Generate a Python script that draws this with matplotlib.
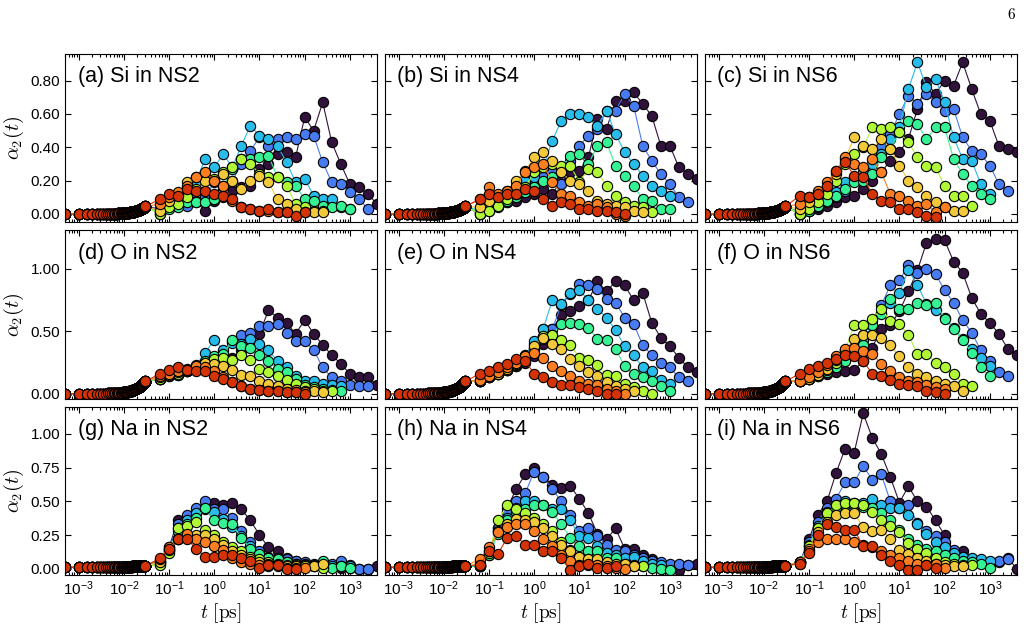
import matplotlib
matplotlib.use("Agg")
import matplotlib.pyplot as plt
from matplotlib.ticker import FormatStrFormatter, NullFormatter

plt.rcParams["font.family"] = ["Liberation Sans", "DejaVu Sans"]
plt.rcParams["mathtext.fontset"] = "custom"
plt.rcParams["mathtext.rm"] = "Liberation Sans"
plt.rcParams["mathtext.it"] = "Liberation Sans:italic"
plt.rcParams["mathtext.bf"] = "Liberation Sans:bold"

# time grids [ps]
t_short = [0.0005, 0.001, 0.0015, 0.002, 0.0025, 0.003, 0.0035, 0.004, 0.0045, 0.005,
           0.0055, 0.006, 0.0065, 0.007, 0.0075, 0.008, 0.0085, 0.009, 0.0095, 0.010,
           0.0105, 0.011, 0.0115, 0.012, 0.0125, 0.013, 0.0135, 0.014, 0.0145, 0.015,
           0.0155, 0.016, 0.0165, 0.017, 0.0175, 0.018, 0.0185, 0.019, 0.0195, 0.020,
           0.0205, 0.021, 0.0215, 0.022, 0.0225, 0.023, 0.0235, 0.024, 0.0245, 0.025,
           0.0255, 0.026, 0.0265, 0.027, 0.0275, 0.028, 0.0285, 0.029, 0.0295, 0.030]
t_long = [0.063, 0.1, 0.158, 0.251, 0.398, 0.631, 1.0, 1.585, 2.512, 3.981, 6.31, 10.0,
          15.85, 25.12, 39.81, 63.1, 100.0, 158.5, 251.2, 398.1, 631.0, 1000.0, 1585.0,
          2512.0, 3981.0]

# short-time part, same for all temperatures of one species
si_short = [0.0, 0.0, 0.0, 0.0, 0.0, 0.0, 0.0, 0.0, 0.001, 0.001,
            0.002, 0.002, 0.002, 0.002, 0.003, 0.003, 0.003, 0.004, 0.004, 0.005,
            0.006, 0.006, 0.007, 0.007, 0.008, 0.008, 0.009, 0.010, 0.010, 0.011,
            0.012, 0.013, 0.014, 0.014, 0.015, 0.016, 0.017, 0.018, 0.019, 0.020,
            0.021, 0.022, 0.023, 0.024, 0.025, 0.026, 0.027, 0.029, 0.030, 0.031,
            0.033, 0.034, 0.035, 0.037, 0.038, 0.039, 0.041, 0.042, 0.044, 0.045]
o_short = [0.0, 0.0, 0.0, 0.0, 0.0, 0.001, 0.001, 0.001, 0.002, 0.003,
           0.003, 0.004, 0.005, 0.005, 0.006, 0.007, 0.008, 0.009, 0.010, 0.011,
           0.012, 0.013, 0.015, 0.016, 0.017, 0.019, 0.020, 0.022, 0.023, 0.025,
           0.027, 0.028, 0.030, 0.032, 0.034, 0.036, 0.038, 0.040, 0.042, 0.044,
           0.047, 0.049, 0.051, 0.054, 0.056, 0.059, 0.061, 0.064, 0.067, 0.069,
           0.072, 0.075, 0.078, 0.081, 0.084, 0.087, 0.090, 0.093, 0.097, 0.100]
na_short = [0.012, 0.012, 0.012, 0.012, 0.012, 0.013, 0.013, 0.013, 0.013, 0.013,
            0.014, 0.014, 0.014, 0.014, 0.014, 0.015, 0.015, 0.015, 0.015, 0.015,
            0.016, 0.016, 0.016, 0.016, 0.016, 0.017, 0.017, 0.017, 0.017, 0.017,
            0.018, 0.018, 0.018, 0.018, 0.018, 0.019, 0.019, 0.019, 0.019, 0.019,
            0.020, 0.020, 0.020, 0.020, 0.020, 0.021, 0.021, 0.021, 0.021, 0.021,
            0.022, 0.022, 0.022, 0.022, 0.022, 0.022, 0.022, 0.022, 0.022, 0.022]

# long-time alpha_2 per temperature (coldest first), starting at t_long[0]
si_ns2 = [
    [0.03, 0.05, 0.05, 0.06, 0.07, 0.02, 0.08, 0.10, 0.14, 0.16, 0.17, 0.27, 0.30, 0.36, 0.37, 0.34, 0.58, 0.50, 0.67, 0.43, 0.30, 0.18, 0.16, 0.12, 0.06],
    [0.02, 0.04, 0.05, 0.05, 0.08, 0.10, 0.19, 0.15, 0.20, 0.30, 0.38, 0.46, 0.41, 0.45, 0.46, 0.45, 0.48, 0.47, 0.31, 0.19, 0.18, 0.13, 0.09, 0.03],
    [0.01, 0.05, 0.08, 0.12, 0.20, 0.33, 0.28, 0.36, 0.28, 0.41, 0.53, 0.47, 0.45, 0.41, 0.31, 0.19, 0.21, 0.11, 0.09, 0.09, 0.04, 0.03],
    [0.0, 0.03, 0.04, 0.07, 0.07, 0.07, 0.09, 0.17, 0.27, 0.33, 0.33, 0.34, 0.35, 0.22, 0.19, 0.17, 0.09, 0.08, 0.05, 0.04, 0.05, 0.03],
    [0.0, 0.04, 0.06, 0.10, 0.15, 0.22, 0.21, 0.25, 0.28, 0.33, 0.30, 0.24, 0.22, 0.22, 0.17, 0.06, 0.04, 0.02, 0.02],
    [0.02, 0.08, 0.12, 0.19, 0.22, 0.20, 0.20, 0.24, 0.20, 0.15, 0.20, 0.23, 0.19, 0.09, 0.06, 0.03, 0.01, 0.01, 0.01],
    [0.06, 0.10, 0.13, 0.17, 0.22, 0.25, 0.20, 0.17, 0.08, 0.04, 0.03, 0.02, 0.02, 0.01, 0.01],
    [0.09, 0.12, 0.11, 0.15, 0.14, 0.14, 0.12, 0.11, 0.09, 0.04, 0.03, 0.02, 0.03, 0.01, 0.01, -0.01, 0.01],
]
si_ns4 = [
    [0.0, 0.03, 0.05, 0.07, 0.08, 0.10, 0.12, 0.15, 0.12, 0.20, 0.25, 0.26, 0.34, 0.57, 0.51, 0.68, 0.68, 0.73, 0.66, 0.59, 0.41, 0.41, 0.28, 0.24, 0.21],
    [0.0, 0.02, 0.04, 0.07, 0.10, 0.21, 0.20, 0.22, 0.25, 0.18, 0.32, 0.41, 0.47, 0.51, 0.62, 0.62, 0.72, 0.65, 0.41, 0.32, 0.24, 0.18, 0.10, 0.07],
    [0.02, 0.05, 0.08, 0.12, 0.17, 0.20, 0.22, 0.28, 0.44, 0.56, 0.60, 0.60, 0.58, 0.53, 0.62, 0.48, 0.37, 0.30, 0.23, 0.17, 0.14, 0.11],
    [0.01, 0.03, 0.05, 0.08, 0.10, 0.13, 0.16, 0.20, 0.22, 0.28, 0.35, 0.36, 0.30, 0.41, 0.43, 0.29, 0.23, 0.17, 0.09, 0.08, 0.03, 0.03],
    [0.0, 0.02, 0.05, 0.09, 0.12, 0.16, 0.25, 0.28, 0.30, 0.29, 0.29, 0.19, 0.27, 0.25, 0.17, 0.11, 0.07, 0.05, 0.04, 0.01],
    [0.04, 0.08, 0.11, 0.14, 0.20, 0.26, 0.34, 0.37, 0.32, 0.25, 0.20, 0.18, 0.14, 0.08, 0.06, 0.05, 0.04, 0.02, 0.01],
    [0.09, 0.16, 0.12, 0.14, 0.17, 0.25, 0.28, 0.30, 0.19, 0.12, 0.11, 0.07, 0.05, 0.06, 0.04, 0.0, -0.01],
    [0.09, 0.12, 0.10, 0.12, 0.12, 0.15, 0.14, 0.09, 0.05, 0.07, 0.06, 0.03, 0.03, 0.02, 0.02, 0.01, 0.0],
]
si_ns6 = [
    [0.0, 0.02, 0.03, 0.05, 0.07, 0.10, 0.11, 0.15, 0.20, 0.25, 0.32, 0.37, 0.45, 0.63, 0.79, 0.72, 0.80, 0.77, 0.91, 0.75, 0.60, 0.56, 0.41, 0.39, 0.37],
    [0.0, 0.02, 0.04, 0.07, 0.10, 0.14, 0.20, 0.22, 0.30, 0.40, 0.48, 0.60, 0.71, 0.66, 0.72, 0.67, 0.62, 0.63, 0.46, 0.38, 0.36, 0.29, 0.18, 0.14],
    [0.01, 0.03, 0.06, 0.09, 0.13, 0.19, 0.22, 0.25, 0.30, 0.36, 0.45, 0.52, 0.75, 0.91, 0.76, 0.81, 0.67, 0.46, 0.33, 0.32, 0.18, 0.12],
    [0.0, 0.02, 0.05, 0.08, 0.11, 0.15, 0.19, 0.20, 0.24, 0.34, 0.39, 0.49, 0.56, 0.54, 0.45, 0.52, 0.52, 0.33, 0.24, 0.17, 0.12, 0.09],
    [0.0, 0.03, 0.07, 0.12, 0.20, 0.30, 0.36, 0.40, 0.52, 0.51, 0.52, 0.49, 0.43, 0.34, 0.29, 0.28, 0.17, 0.11, 0.11, 0.05],
    [0.03, 0.07, 0.12, 0.17, 0.24, 0.33, 0.46, 0.41, 0.39, 0.45, 0.39, 0.29, 0.20, 0.16, 0.11, 0.07, 0.04, 0.02, 0.02],
    [0.06, 0.10, 0.14, 0.19, 0.26, 0.34, 0.30, 0.28, 0.33, 0.25, 0.12, 0.11, 0.08, 0.05, 0.06, 0.01, 0.04],
    [0.11, 0.10, 0.12, 0.17, 0.26, 0.31, 0.23, 0.22, 0.12, 0.08, 0.07, 0.03, 0.03, 0.01, -0.01, -0.02],
]
o_ns2 = [
    [0.12, 0.15, 0.15, 0.18, 0.20, 0.22, 0.22, 0.25, 0.29, 0.35, 0.45, 0.48, 0.67, 0.61, 0.57, 0.48, 0.59, 0.48, 0.39, 0.31, 0.24, 0.16, 0.13, 0.13, 0.07],
    [0.12, 0.15, 0.16, 0.18, 0.20, 0.23, 0.27, 0.33, 0.42, 0.47, 0.49, 0.54, 0.54, 0.56, 0.49, 0.42, 0.42, 0.35, 0.21, 0.13, 0.10, 0.07, 0.06, 0.06],
    [0.12, 0.15, 0.17, 0.19, 0.23, 0.33, 0.43, 0.35, 0.41, 0.40, 0.44, 0.40, 0.35, 0.26, 0.21, 0.14, 0.10, 0.10, 0.08, 0.07, 0.06],
    [0.12, 0.14, 0.15, 0.18, 0.21, 0.26, 0.30, 0.32, 0.43, 0.38, 0.37, 0.31, 0.26, 0.20, 0.17, 0.12, 0.07, 0.05, 0.04, 0.03, 0.02],
    [0.12, 0.14, 0.16, 0.18, 0.21, 0.25, 0.28, 0.29, 0.27, 0.31, 0.27, 0.20, 0.17, 0.14, 0.11, 0.08, 0.05, 0.04, 0.02, 0.02],
    [0.13, 0.15, 0.17, 0.19, 0.22, 0.25, 0.24, 0.22, 0.19, 0.15, 0.14, 0.10, 0.08, 0.06, 0.04, 0.03, 0.02, 0.02, 0.01],
    [0.14, 0.16, 0.18, 0.20, 0.22, 0.21, 0.18, 0.13, 0.09, 0.06, 0.04, 0.03, 0.02, 0.02, 0.01, 0.01, 0.01],
    [0.16, 0.19, 0.21, 0.19, 0.18, 0.18, 0.14, 0.12, 0.09, 0.06, 0.04, 0.03, 0.02, 0.02, 0.01, 0.01, 0.0],
]
o_ns4 = [
    [0.10, 0.15, 0.17, 0.19, 0.22, 0.25, 0.30, 0.40, 0.52, 0.63, 0.66, 0.70, 0.75, 0.90, 0.82, 0.90, 0.87, 0.75, 0.81, 0.57, 0.45, 0.38, 0.29, 0.21, 0.17],
    [0.10, 0.14, 0.17, 0.20, 0.24, 0.31, 0.40, 0.52, 0.52, 0.71, 0.80, 0.88, 0.87, 0.84, 0.76, 0.73, 0.61, 0.56, 0.39, 0.31, 0.25, 0.21, 0.13, 0.10],
    [0.10, 0.13, 0.16, 0.19, 0.23, 0.29, 0.42, 0.52, 0.75, 0.72, 0.81, 0.83, 0.75, 0.68, 0.61, 0.51, 0.38, 0.31, 0.21, 0.18, 0.11, 0.08],
    [0.10, 0.13, 0.16, 0.19, 0.22, 0.28, 0.36, 0.44, 0.47, 0.56, 0.57, 0.56, 0.53, 0.44, 0.43, 0.36, 0.22, 0.16, 0.13, 0.10, 0.06, 0.02],
    [0.10, 0.13, 0.16, 0.19, 0.23, 0.30, 0.37, 0.46, 0.47, 0.43, 0.39, 0.29, 0.27, 0.23, 0.15, 0.14, 0.08, 0.05, 0.02, 0.0],
    [0.10, 0.13, 0.16, 0.20, 0.24, 0.30, 0.38, 0.45, 0.40, 0.36, 0.28, 0.22, 0.17, 0.14, 0.09, 0.06, 0.04, 0.02],
    [0.11, 0.14, 0.17, 0.21, 0.25, 0.30, 0.33, 0.29, 0.22, 0.18, 0.14, 0.10, 0.08, 0.07, 0.04, 0.02, 0.0],
    [0.16, 0.18, 0.21, 0.24, 0.28, 0.26, 0.16, 0.13, 0.09, 0.07, 0.07, 0.05, 0.04, 0.02, 0.0, 0.0],
]
o_ns6 = [
    [0.10, 0.13, 0.14, 0.16, 0.17, 0.18, 0.19, 0.26, 0.37, 0.52, 0.55, 0.66, 0.82, 0.99, 1.21, 1.24, 1.23, 1.06, 0.97, 0.77, 0.64, 0.57, 0.48, 0.36, 0.31],
    [0.10, 0.12, 0.15, 0.18, 0.22, 0.28, 0.37, 0.47, 0.58, 0.71, 0.87, 0.91, 1.03, 0.97, 1.00, 0.96, 0.83, 0.73, 0.59, 0.49, 0.35, 0.26, 0.17, 0.14],
    [0.10, 0.12, 0.15, 0.18, 0.22, 0.27, 0.34, 0.43, 0.55, 0.65, 0.73, 0.81, 0.99, 0.87, 0.72, 0.67, 0.61, 0.53, 0.44, 0.36, 0.29, 0.22],
    [0.10, 0.12, 0.14, 0.17, 0.21, 0.26, 0.33, 0.39, 0.55, 0.64, 0.76, 0.68, 0.68, 0.73, 0.71, 0.73, 0.60, 0.52, 0.43, 0.33, 0.21, 0.14],
    [0.10, 0.12, 0.15, 0.19, 0.25, 0.35, 0.55, 0.55, 0.60, 0.68, 0.58, 0.56, 0.47, 0.32, 0.32, 0.25, 0.21, 0.16, 0.08, 0.06],
    [0.10, 0.12, 0.15, 0.20, 0.27, 0.35, 0.44, 0.47, 0.47, 0.45, 0.39, 0.30, 0.21, 0.16, 0.13, 0.10, 0.08, 0.06, 0.02],
    [0.10, 0.13, 0.17, 0.23, 0.30, 0.36, 0.37, 0.34, 0.32, 0.24, 0.18, 0.13, 0.10, 0.09, 0.07, 0.05, 0.04],
    [0.16, 0.20, 0.22, 0.25, 0.28, 0.31, 0.30, 0.26, 0.16, 0.14, 0.11, 0.08, 0.07, 0.06, 0.02, 0.01, 0.0],
]
na_ns2 = [
    [0.06, 0.16, 0.36, 0.38, 0.42, 0.46, 0.49, 0.47, 0.49, 0.44, 0.36, 0.25, 0.16, 0.13, 0.08, 0.06, 0.04, 0.03, 0.02, 0.02, 0.01, 0.01, 0.0, 0.0, 0.02],
    [0.05, 0.15, 0.33, 0.40, 0.45, 0.50, 0.44, 0.44, 0.38, 0.28, 0.20, 0.13, 0.09, 0.08, 0.07, 0.06, 0.05, 0.04, 0.04, 0.04, 0.06, 0.03, 0.0, 0.0],
    [0.05, 0.14, 0.30, 0.36, 0.41, 0.44, 0.42, 0.37, 0.31, 0.24, 0.17, 0.10, 0.08, 0.06, 0.05, 0.04, 0.04, 0.03, 0.03, 0.02, 0.02, 0.02],
    [0.04, 0.13, 0.28, 0.33, 0.38, 0.45, 0.36, 0.34, 0.33, 0.23, 0.15, 0.11, 0.08, 0.07, 0.05, 0.04, 0.03, 0.02, 0.06, 0.01, 0.02, 0.01],
    [0.03, 0.12, 0.30, 0.32, 0.35, 0.29, 0.25, 0.20, 0.16, 0.13, 0.09, 0.07, 0.05, 0.04, 0.03, 0.03, 0.03, 0.02, 0.01],
    [0.05, 0.14, 0.22, 0.24, 0.25, 0.25, 0.22, 0.18, 0.13, 0.10, 0.07, 0.05, 0.04, 0.03, 0.02, 0.02, 0.02, 0.02, 0.04],
    [0.07, 0.16, 0.22, 0.26, 0.22, 0.20, 0.17, 0.14, 0.08, 0.05, 0.04, 0.03, 0.02, 0.02, 0.01, 0.01, 0.01],
    [0.08, 0.15, 0.22, 0.22, 0.15, 0.09, 0.09, 0.10, 0.10, 0.08, 0.06, 0.01, 0.03, 0.03, 0.0, 0.0],
]
na_ns4 = [
    [0.02, 0.10, 0.30, 0.45, 0.59, 0.70, 0.75, 0.68, 0.62, 0.60, 0.61, 0.52, 0.41, 0.26, 0.22, 0.30, 0.15, 0.15, 0.10, 0.07, 0.04, 0.02, -0.01, 0.03, 0.04],
    [0.02, 0.11, 0.30, 0.42, 0.50, 0.56, 0.72, 0.68, 0.59, 0.50, 0.40, 0.28, 0.30, 0.24, 0.18, 0.14, 0.13, 0.10, 0.08, 0.06, 0.05, 0.04, 0.04, 0.03],
    [0.02, 0.11, 0.28, 0.38, 0.45, 0.50, 0.50, 0.47, 0.44, 0.44, 0.36, 0.24, 0.23, 0.17, 0.12, 0.10, 0.08, 0.09, 0.06, 0.04, 0.03],
    [0.02, 0.10, 0.26, 0.36, 0.42, 0.44, 0.47, 0.47, 0.42, 0.33, 0.23, 0.17, 0.13, 0.13, 0.08, 0.08, 0.04, 0.03, 0.02, 0.01, 0.0, -0.01],
    [0.03, 0.12, 0.36, 0.47, 0.44, 0.41, 0.38, 0.33, 0.28, 0.20, 0.14, 0.09, 0.07, 0.05, 0.04, 0.03, 0.02, 0.02, 0.02],
    [0.04, 0.13, 0.28, 0.33, 0.37, 0.36, 0.35, 0.30, 0.24, 0.18, 0.13, 0.09, 0.07, 0.07, 0.05, 0.04, 0.04, 0.02],
    [0.07, 0.16, 0.27, 0.31, 0.33, 0.33, 0.28, 0.22, 0.17, 0.10, 0.06, 0.03, 0.03, 0.03, 0.02, 0.01, 0.0],
    [0.03, 0.13, 0.11, 0.23, 0.24, 0.18, 0.18, 0.13, 0.13, 0.08, -0.01, 0.02, 0.04, 0.01, 0.01, 0.02],
]
na_ns6 = [
    [0.05, 0.22, 0.40, 0.50, 0.71, 0.89, 0.86, 1.15, 0.97, 0.85, 0.68, 0.49, 0.61, 0.50, 0.46, 0.36, 0.25, 0.13, 0.13, 0.07, 0.05, 0.04, 0.05, 0.08, 0.0],
    [0.05, 0.20, 0.35, 0.45, 0.52, 0.64, 0.64, 0.76, 0.66, 0.70, 0.50, 0.45, 0.47, 0.34, 0.28, 0.24, 0.20, 0.14, 0.09, 0.07, 0.05, 0.05, 0.06, 0.07],
    [0.05, 0.18, 0.32, 0.42, 0.47, 0.50, 0.49, 0.49, 0.52, 0.47, 0.45, 0.45, 0.40, 0.33, 0.26, 0.20, 0.16, 0.12, 0.09, 0.08, 0.07, 0.06],
    [0.05, 0.17, 0.30, 0.40, 0.45, 0.47, 0.47, 0.46, 0.45, 0.41, 0.36, 0.29, 0.22, 0.18, 0.15, 0.13, 0.10, 0.08, 0.06, 0.05, 0.04, 0.01],
    [0.05, 0.17, 0.30, 0.41, 0.47, 0.49, 0.49, 0.47, 0.42, 0.36, 0.32, 0.27, 0.19, 0.15, 0.12, 0.08, 0.05, 0.04, 0.03, 0.03],
    [0.04, 0.15, 0.27, 0.35, 0.40, 0.41, 0.41, 0.31, 0.28, 0.29, 0.22, 0.14, 0.11, 0.08, 0.06, 0.04, 0.03, 0.02, 0.02],
    [0.05, 0.13, 0.20, 0.22, 0.22, 0.22, 0.20, 0.18, 0.16, 0.13, 0.10, 0.08, 0.06, 0.04, 0.03, 0.04, 0.01],
    [0.04, 0.12, 0.25, 0.33, 0.31, 0.29, 0.29, 0.17, 0.17, 0.10, 0.06, 0.03, -0.01, -0.01, 0.03, 0.01],
]

panel_titles = ["(a) Si in NS2", "(b) Si in NS4", "(c) Si in NS6",
                "(d) O in NS2", "(e) O in NS4", "(f) O in NS6",
                "(g) Na in NS2", "(h) Na in NS4", "(i) Na in NS6"]
row_yticks = [[0.0, 0.2, 0.4, 0.6, 0.8], [0.0, 0.5, 1.0], [0.0, 0.25, 0.5, 0.75, 1.0]]
row_ylims = [(-0.05, 0.96), (-0.04, 1.31), (-0.045, 1.2)]
x_major = [1e-3, 1e-2, 1e-1, 1e0, 1e1, 1e2, 1e3]
color_pos = [0.0, 0.15, 0.25, 0.38, 0.52, 0.64, 0.75, 0.87]

XMIN, XMAX = 5e-4, 4e3


def draw_panel(ax, short, series, colors):
    for vals, c in zip(series, colors):
        t = t_short + t_long[:len(vals)]
        y = short + vals
        ax.plot(t, y, "-o", color=c, lw=0.8, ms=7.4, mfc=c, mec="black", mew=0.8)


def main():
    cmap = plt.get_cmap("turbo")
    colors = [cmap(p) for p in color_pos]

    # minor log ticks, only those inside the visible range
    x_minor = [m * d for d in [1e-4, 1e-3, 1e-2, 1e-1, 1e0, 1e1, 1e2, 1e3]
               for m in range(2, 10) if XMIN <= m * d <= XMAX]

    fig, axes = plt.subplots(3, 3, figsize=(10.26, 6.25), dpi=100, sharex=True, sharey="row")
    fig.subplots_adjust(left=0.0634, right=0.9912, top=0.9136, bottom=0.08,
                        wspace=0.0256, hspace=0.0476)

    panels = [(si_short, si_ns2), (si_short, si_ns4), (si_short, si_ns6),
              (o_short, o_ns2), (o_short, o_ns4), (o_short, o_ns6),
              (na_short, na_ns2), (na_short, na_ns4), (na_short, na_ns6)]

    for idx, ax in enumerate(axes.flat):
        row, col = divmod(idx, 3)
        short, series = panels[idx]
        draw_panel(ax, short, series, colors)

        ax.set_xscale("log")
        ax.set_xticks(x_major)
        ax.set_xticks(x_minor, minor=True)
        ax.xaxis.set_minor_formatter(NullFormatter())
        ax.set_xlim(XMIN, XMAX)
        ax.set_ylim(*row_ylims[row])
        ax.set_yticks(row_yticks[row])
        ax.yaxis.set_major_formatter(FormatStrFormatter("%.2f"))
        ax.tick_params(which="both", direction="in", top=True, right=True, labelsize=11, width=0.8)
        ax.tick_params(which="major", length=4)
        ax.tick_params(which="minor", length=2)
        for s in ax.spines.values():
            s.set_linewidth(0.8)

        ax.text(0.04, 0.865, panel_titles[idx], transform=ax.transAxes,
                fontsize=15.5, ha="left", va="center")

        if col == 0:
            ax.set_ylabel(r"$\alpha_2(t)$", fontsize=14.5, math_fontfamily="cm", labelpad=3)
        if row == 2:
            ax.set_xlabel(r"$t\ [\mathrm{ps}]$", fontsize=14, math_fontfamily="cm", labelpad=2)

    fig.text(0.986, 0.977, r"$6$", fontsize=11, math_fontfamily="cm", ha="center", va="center")

    fig.savefig("out.png", dpi=100)
    plt.close(fig)


if __name__ == "__main__":
    main()
